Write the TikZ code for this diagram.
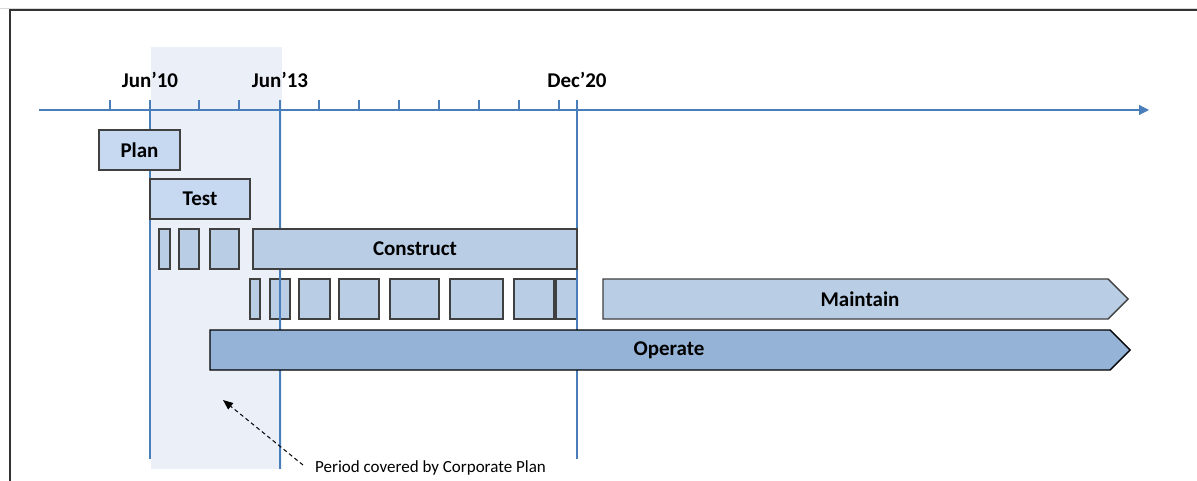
\documentclass[tikz,border=0pt]{standalone}
\usepackage{fontspec}
\setmainfont{Carlito}
\usetikzlibrary{arrows.meta}
\definecolor{axisblue}{HTML}{4A7EBB}
\definecolor{periodfill}{HTML}{EBF0F8}
\definecolor{lightfill}{HTML}{C6D9F1}
\definecolor{midfill}{HTML}{B9CDE5}
\definecolor{darkfill}{HTML}{95B3D7}
\definecolor{edge}{HTML}{404040}
\tikzset{
  bar/.style={draw=edge, line width=1.4pt, fill=midfill, inner sep=0pt},
  phase/.style={bar, fill=lightfill},
  lbl/.style={font=\fontsize{21}{24}\selectfont\bfseries, inner sep=0pt},
  datelbl/.style={font=\fontsize{21}{24}\selectfont\bfseries, inner sep=0pt},
  axisline/.style={axisblue, line width=1.2pt},
  guide/.style={axisblue, line width=1.2pt},
}
% box from (x1,y1) to (x2,y2), y counted downwards
\newcommand{\boxat}[6][bar]{%
  \node[#1, minimum width={#4-#2}, minimum height={#5-#3}] (#6) at ({(#2+#4)/2},{(#3+#5)/2}) {};}
\begin{document}
\begin{tikzpicture}[x=1pt,y=-1pt]
\useasboundingbox (0,0) rectangle (1197,481);
\fill[white] (0,0) rectangle (1197,481);

% outer frame
\draw[black!15, line width=0.8pt] (0,8.5) -- (1197,8.5);
\draw[edge!80!black, line width=1.8pt] (10,481) -- (10,10) -- (1197,10);

% shaded planning period
\fill[periodfill] (151,47) rectangle (282,469);

% second row of short works
\boxat{250}{279}{260}{319}{r2a}
\boxat{270}{279}{290}{319}{r2b}
\boxat{299}{279}{330}{319}{r2c}
\boxat{339}{279}{379}{319}{r2d}
\boxat{390}{279}{439}{319}{r2e}
\boxat{450}{279}{503}{319}{r2f}
\boxat{514}{279}{554}{319}{r2g}
\boxat{556}{279}{577}{319}{r2h}

% milestone guides
\coordinate (g10t) at (150,110); \coordinate (g10b) at (150,459);
\coordinate (g13t) at (280,110); \coordinate (g13b) at (280,469);
\coordinate (g20t) at (577,110); \coordinate (g20b) at (577,459);
\draw[guide] (g10t) -- (g10b);
\draw[guide] (g13t) -- (g13b);
\draw[guide] (g20t) -- (g20b);

% time axis
\coordinate (axL) at (39,110);
\coordinate (axR) at (1149,110);
\draw[axisline, -{Triangle[length=10pt,width=10pt]}] (axL) -- (axR);
\foreach \t in {110,150,199,239,280,319,359,399,439,479,519,559,577}
  \draw[axisline] (\t,110) -- (\t,100);

\node[datelbl] (d10) at (150,80) {Jun’10};
\node[datelbl] (d13) at (280,80) {Jun’13};
\node[datelbl] (d20) at (577,80) {Dec’20};

% phases
\boxat[phase]{99}{130}{180}{170}{plan}
\node[lbl] (planlbl) at (plan) {Plan};
\boxat[phase]{150}{179}{250}{219}{test}
\node[lbl] (testlbl) at (test) {Test};

% first row of short works
\boxat{159}{229}{170}{269}{r1a}
\boxat{179}{229}{199}{269}{r1b}
\boxat{210}{229}{239}{269}{r1c}
\boxat{253}{229}{577}{269}{construct}
\node[lbl] (constructlbl) at (construct) {Construct};

% long-running phases
\draw[bar] (603,279) -- (1108,279) -- (1128,299) -- (1108,319) -- (603,319) -- cycle;
\node[lbl] (maintain) at (860,299) {Maintain};
\draw[bar, draw=black, fill=darkfill] (210,330) -- (1110,330) -- (1130,350) -- (1110,370) -- (210,370) -- cycle;
\node[lbl] (operate) at (669,350) {Operate};

% note on the planning period
\node[font=\fontsize{17}{20}\selectfont, anchor=west, inner sep=0pt] (note) at (315,468) {Period covered by Corporate Plan};
\coordinate (notetail) at (303,465);
\coordinate (notehead) at (223,400);
\draw[black, line width=1pt, dash pattern=on 4pt off 3pt, -{Triangle[length=10pt,width=8pt]}] (notetail) -- (notehead);
\end{tikzpicture}
\end{document}
